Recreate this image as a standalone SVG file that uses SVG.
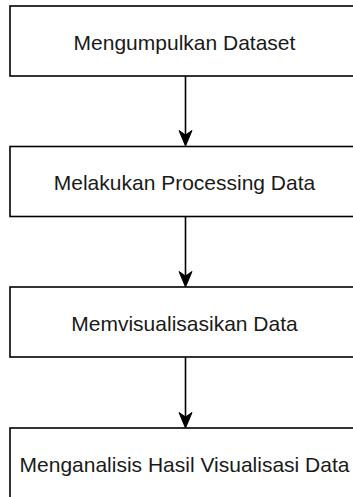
<svg xmlns="http://www.w3.org/2000/svg" width="353" height="497" viewBox="0 0 353 497">
<style>
.box{fill:#ffffff;stroke:#000000;stroke-width:1.6}
.lbl{font-family:"Liberation Sans",Arial,Helvetica,sans-serif;font-size:21px;fill:#1a1a1a;text-anchor:middle}
.edge{stroke:#000000;stroke-width:1.6;fill:none}
.head{fill:#000000;stroke:#000000;stroke-width:1}
</style>
<rect width="353" height="497" fill="#ffffff"/>
<g id="connectors">
<line class="edge" x1="185.5" y1="76" x2="185.5" y2="136"/>
<path class="head" d="M185.5,146 L179,130.5 L185.5,135 L192,130.5 Z"/>
<line class="edge" x1="185.5" y1="216.5" x2="185.5" y2="277"/>
<path class="head" d="M185.5,287 L179,271.5 L185.5,276 L192,271.5 Z"/>
<line class="edge" x1="185.5" y1="357" x2="185.5" y2="418"/>
<path class="head" d="M185.5,428 L179,412.5 L185.5,417 L192,412.5 Z"/>
</g>
<g id="n1">
<rect class="box" x="10" y="6" width="351" height="70"/>
<text class="lbl" x="184.5" y="49.5">Mengumpulkan Dataset</text>
</g>
<g id="n2">
<rect class="box" x="10" y="146.5" width="351" height="70"/>
<text class="lbl" x="184.5" y="190">Melakukan Processing Data</text>
</g>
<g id="n3">
<rect class="box" x="10" y="287" width="351" height="70"/>
<text class="lbl" x="184.5" y="330.5">Memvisualisasikan Data</text>
</g>
<g id="n4">
<rect class="box" x="10" y="428" width="351" height="70"/>
<text class="lbl" x="184.5" y="471.5">Menganalisis Hasil Visualisasi Data</text>
</g>
</svg>
